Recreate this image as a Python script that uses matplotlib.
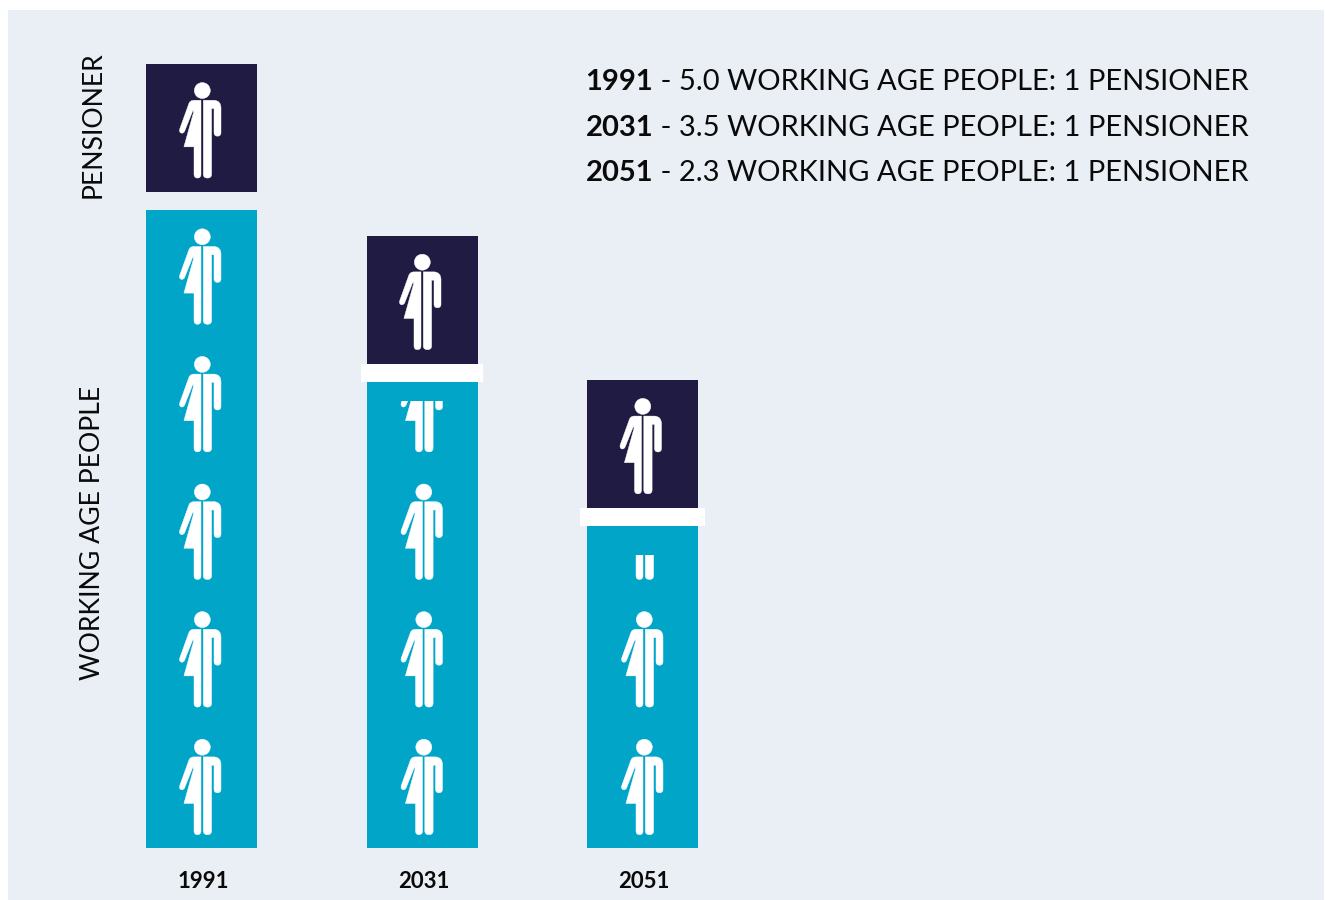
import math
import matplotlib
matplotlib.use('Agg')
import matplotlib.pyplot as plt
from matplotlib.patches import PathPatch, Rectangle
from matplotlib.path import Path
from matplotlib.transforms import Affine2D

plt.rcParams['font.family'] = ['Lato', 'DejaVu Sans']

years = ['1991', '2031', '2051']
working_per_pensioner = [5.0, 3.5, 2.3]
# teal column tops, slightly above the ratio on the later two columns
column_tops = [5.0, 3.655, 2.525]
pensioners = [1, 1, 1]

NAVY = '#1f1b42'
TEAL = '#00a5c8'
PANEL = '#eaeff6'
INK = '#0a0a0a'

# pixels per unit on each axis
PX_X = 220.5
PX_Y = 127.6
BAR_W = 111 / PX_X
GAP = 18 / PX_Y

L, Q = Path.LINETO, Path.CURVE3

# one figure in pixels, origin at the centre of the head, y pointing down
dress_side = [
    (Path.MOVETO, (-1.3, 9.7)), (L, (-8.5, 9.7)),
    (Q, (-12.5, 9.8)), (Q, (-13.6, 13.5)),
    (L, (-22.6, 38.5)),
    (Q, (-23.6, 41.8)), (Q, (-20.8, 42.6)),
    (Q, (-18.6, 43.0)), (Q, (-17.6, 40.5)),
    (L, (-9.2, 19.5)),
    (L, (-8.8, 22.0)),
    (L, (-18.4, 56.3)), (L, (-8.3, 56.3)),
    (L, (-8.3, 83.7)),
    (Q, (-8.3, 87.5)), (Q, (-4.8, 87.5)),
    (Q, (-1.3, 87.5)), (Q, (-1.3, 83.7)),
    (Path.CLOSEPOLY, (-1.3, 9.7)),
]
suit_side = [
    (Path.MOVETO, (1.0, 9.7)), (L, (12.0, 9.7)),
    (Q, (18.7, 10.2)), (Q, (18.7, 17.5)),
    (L, (18.7, 42.0)),
    (Q, (18.7, 45.6)), (Q, (15.2, 45.6)),
    (Q, (11.7, 45.6)), (Q, (11.7, 42.0)),
    (L, (11.7, 18.0)), (L, (9.3, 18.0)),
    (L, (9.3, 83.7)),
    (Q, (9.3, 87.5)), (Q, (5.2, 87.5)),
    (Q, (1.0, 87.5)), (Q, (1.0, 83.7)),
    (Path.CLOSEPOLY, (1.0, 9.7)),
]


def figure_path(x, y):
    parts = [Path.circle((0, 0), 8.0)]
    for outline in (dress_side, suit_side):
        codes = [c for c, _ in outline]
        verts = [v for _, v in outline]
        parts.append(Path(verts, codes))
    icon = Path.make_compound_path(*parts)
    return icon.transformed(Affine2D().scale(1 / PX_X, -1 / PX_Y).translate(x, y))


def draw_figure(ax, x, y, clip_top=None):
    patch = PathPatch(figure_path(x, y), facecolor='white', edgecolor='white', linewidth=0.3, zorder=3)
    ax.add_patch(patch)
    if clip_top is not None:
        clip = Rectangle((x - 0.3, 0), 0.6, clip_top, transform=ax.transData)
        patch.set_clip_path(clip)


fig = plt.figure(figsize=(13.25, 9), dpi=100, facecolor='white')
ax = fig.add_axes([8 / 1325, 0, 1316 / 1325, 890 / 900])
ax.set_facecolor(PANEL)
ax.set_xlim((8 - 201.5) / PX_X, (1324 - 201.5) / PX_X)
ax.set_ylim((848 - 900) / PX_Y, (848 - 10) / PX_Y)
for s in ax.spines.values():
    s.set_visible(False)

xpos = list(range(len(years)))
ax.bar(xpos, column_tops, width=BAR_W, color=TEAL, zorder=2)
ax.bar(xpos, pensioners, width=BAR_W, bottom=[t + GAP for t in column_tops],
       color=NAVY, zorder=2)

# white separators on the projected years
sep_half = {1: 61, 2: 62.5}
for i, half in sep_half.items():
    ax.add_patch(Rectangle((i - half / PX_X, column_tops[i]), 2 * half / PX_X, GAP,
                           facecolor='white', edgecolor='none', zorder=2))

for i, value in enumerate(working_per_pensioner):
    shift = 0.8 if i == 0 else 1.8
    for k in range(math.ceil(value)):
        draw_figure(ax, i + shift / PX_X, k + 0.79, clip_top=value)
    top = column_tops[i] + GAP + pensioners[i]
    draw_figure(ax, i + (0.8 if i == 0 else 0.3) / PX_X, top - 0.205)

ax.set_xticks([])
ax.set_yticks([])
for x, year in zip(xpos, years):
    ax.text(x + 1.5 / PX_X, (848 - 882) / PX_Y, year, ha='center', va='center',
            fontsize=16, fontweight='bold', color=INK)

# vertical category labels
ax.text((93 - 201.5) / PX_X, (848 - 125) / PX_Y, 'PENSIONER', rotation=90, ha='center', va='center',
        fontsize=19.2, color=INK)
ax.text((93 - 201.5) / PX_X, (848 - 533) / PX_Y, 'WORKING AGE PEOPLE', rotation=90, ha='center', va='center',
        fontsize=19.2, color=INK)

# ratio key, top right
for year, value, py in zip(years, working_per_pensioner, [82, 128, 173]):
    t = ax.text((585.5 - 201.5) / PX_X, (848 - py) / PX_Y, year, fontsize=21, fontweight='bold',
                va='center', ha='left', color=INK)
    ax.annotate(f' - {value:.1f} WORKING AGE PEOPLE: 1 PENSIONER', xy=(1, 0.5), xycoords=t,
                va='center', ha='left', fontsize=21, color=INK)

fig.savefig('out.png', dpi=100, facecolor='white')
